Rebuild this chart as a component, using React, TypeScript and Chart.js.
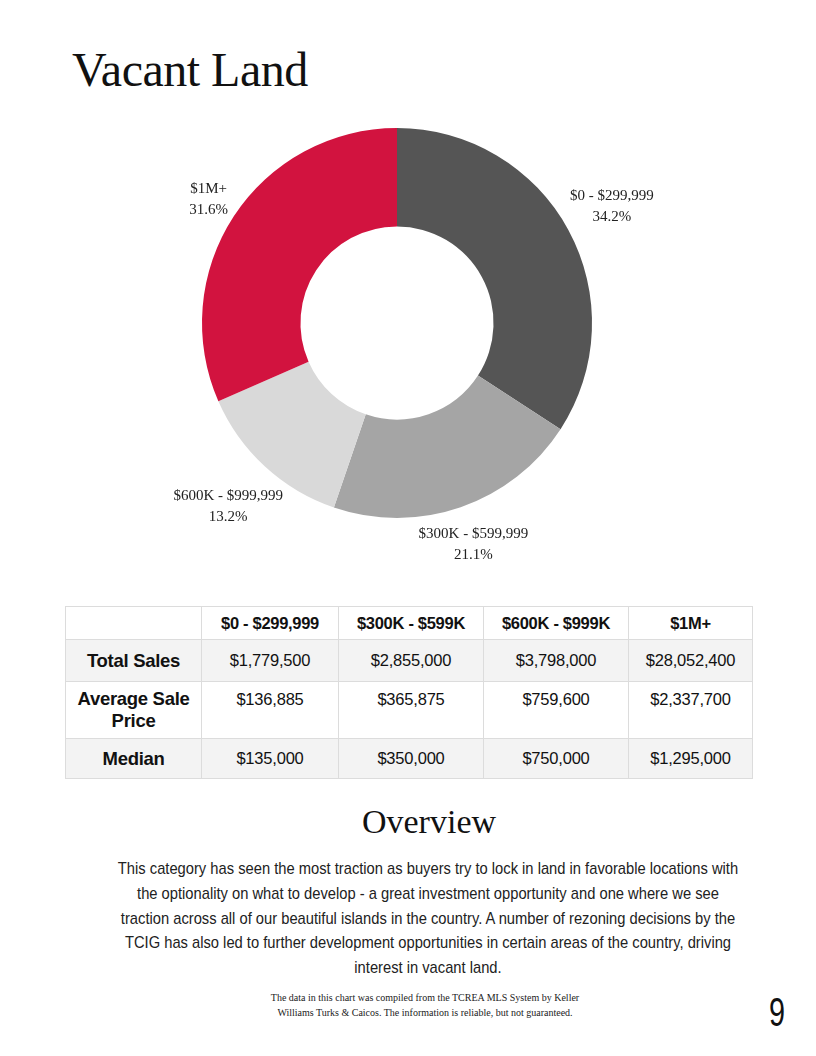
import React, { useEffect, useRef } from "react";
import { Chart, registerables } from "chart.js";

Chart.register(...registerables);

const sliceLabels = ["$0 - $299,999", "$300K - $599,999", "$600K - $999,999", "$1M+"];
const sliceValues = [34.2, 21.1, 13.2, 31.6];
const sliceColors = ["#555555", "#a5a5a5", "#d9d9d9", "#d2133f"];

const tableHeaders = ["", "$0 - $299,999", "$300K - $599K", "$600K - $999K", "$1M+"];
const totalSales = ["$1,779,500", "$2,855,000", "$3,798,000", "$28,052,400"];
const averageSalePrice = ["$136,885", "$365,875", "$759,600", "$2,337,700"];
const medianPrice = ["$135,000", "$350,000", "$750,000", "$1,295,000"];

const overviewLines = [
  "This category has seen the most traction as buyers try to lock in land in favorable locations with",
  "the optionality on what to develop - a great investment opportunity and one where we see",
  "traction across all of our beautiful islands in the country. A number of rezoning decisions by the",
  "TCIG has also led to further development opportunities in certain areas of the country, driving",
  "interest in vacant land.",
];

const SERIF = '"Liberation Serif", "DejaVu Serif", serif';
const SANS = '"Liberation Sans", Arial, sans-serif';

const outsideLabels = {
  id: "outsideLabels",
  afterDatasetsDraw(chart: any) {
    const ctx = chart.ctx;
    const meta = chart.getDatasetMeta(0);
    const data = chart.data.datasets[0].data as number[];
    const total = data.reduce((a: number, b: number) => a + b, 0);
    ctx.save();
    ctx.font = `15px ${SERIF}`;
    ctx.fillStyle = "#222222";
    ctx.textAlign = "center";
    ctx.textBaseline = "middle";
    const lineH = 21;
    meta.data.forEach((arc: any, i: number) => {
      const p = arc.getProps(["x", "y", "startAngle", "endAngle", "outerRadius"], true);
      const mid = (p.startAngle + p.endAngle) / 2;
      const l1 = String(chart.data.labels[i]);
      const l2 = ((data[i] / total) * 100).toFixed(1) + "%";
      const w = Math.max(ctx.measureText(l1).width, ctx.measureText(l2).width);
      const h = lineH * 2 - 6;
      const c = Math.cos(mid);
      const s = Math.sin(mid);
      const r = p.outerRadius + 4 + Math.abs(c) * w / 2 + Math.abs(s) * h / 2;
      const cx = p.x + c * r;
      const cy = p.y + s * r;
      ctx.fillText(l1, cx, cy - lineH / 2);
      ctx.fillText(l2, cx, cy + lineH / 2);
    });
    ctx.restore();
  },
};

function DonutChart() {
  const ref = useRef<HTMLCanvasElement | null>(null);
  useEffect(() => {
    if (!ref.current) return;
    const chart = new Chart(ref.current, {
      type: "doughnut",
      data: {
        labels: sliceLabels,
        datasets: [
          {
            data: sliceValues,
            backgroundColor: sliceColors,
            borderWidth: 0,
          },
        ],
      },
      options: {
        animation: false,
        responsive: false,
        maintainAspectRatio: false,
        radius: 195,
        cutout: "49.5%",
        plugins: {
          legend: { display: false },
          tooltip: { enabled: false },
        },
      } as any,
      plugins: [outsideLabels],
    });
    return () => chart.destroy();
  }, []);
  return (
    <canvas
      ref={ref}
      width={640}
      height={500}
      style={{ position: "absolute", left: 77, top: 73, width: 640, height: 500 }}
    />
  );
}

const cellBorder = "1px solid #dcdcdc";

function DataTable() {
  const colW = [136, 137, 145, 145, 124];
  const rows: { label: React.ReactNode; values: string[]; h: number; bg: string; valign: "middle" | "top" }[] = [
    { label: "Total Sales", values: totalSales, h: 42, bg: "#f3f3f3", valign: "middle" },
    { label: <>Average Sale<br />Price</>, values: averageSalePrice, h: 57, bg: "#ffffff", valign: "top" },
    { label: "Median", values: medianPrice, h: 40, bg: "#f3f3f3", valign: "middle" },
  ];
  return (
    <table
      style={{
        position: "absolute",
        left: 65,
        top: 606,
        borderCollapse: "collapse",
        tableLayout: "fixed",
        width: 687,
        fontFamily: SANS,
        color: "#111111",
      }}
    >
      <colgroup>
        {colW.map((w, i) => (
          <col key={i} style={{ width: w }} />
        ))}
      </colgroup>
      <tbody>
        <tr style={{ height: 33 }}>
          {tableHeaders.map((h, i) => (
            <td
              key={i}
              style={{
                border: cellBorder,
                textAlign: "center",
                fontWeight: "bold",
                fontSize: 16.5,
                letterSpacing: -0.3,
                padding: 0,
                background: "#ffffff",
              }}
            >
              {h}
            </td>
          ))}
        </tr>
        {rows.map((r, ri) => (
          <tr key={ri} style={{ height: r.h, background: r.bg }}>
            <td
              style={{
                border: cellBorder,
                textAlign: "center",
                fontWeight: "bold",
                fontSize: 18.5,
                letterSpacing: -0.3,
                lineHeight: "22px",
                padding: 0,
                verticalAlign: "middle",
              }}
            >
              {r.label}
            </td>
            {r.values.map((v, vi) => (
              <td
                key={vi}
                style={{
                  border: cellBorder,
                  textAlign: "center",
                  fontSize: 16.5,
                  letterSpacing: -0.2,
                  padding: r.valign === "top" ? "8px 0 0 0" : 0,
                  verticalAlign: r.valign,
                }}
              >
                {v}
              </td>
            ))}
          </tr>
        ))}
      </tbody>
    </table>
  );
}

export default function App() {
  const paraScale = 0.866;
  const paraW = 1000;
  return (
    <div
      style={{
        position: "absolute",
        left: 0,
        top: 0,
        width: 816,
        height: 1056,
        background: "#ffffff",
        overflow: "hidden",
      }}
    >
      <div
        style={{
          position: "absolute",
          left: 72,
          top: 40,
          fontFamily: SERIF,
          fontSize: 48,
          lineHeight: "60px",
          color: "#111111",
          letterSpacing: -0.5,
          whiteSpace: "nowrap",
        }}
      >
        Vacant Land
      </div>

      <DonutChart />
      <DataTable />

      <div
        style={{
          position: "absolute",
          left: 229,
          width: 400,
          top: 800,
          textAlign: "center",
          fontFamily: SERIF,
          fontSize: 34,
          lineHeight: "44px",
          color: "#111111",
        }}
      >
        Overview
      </div>

      <div
        style={{
          position: "absolute",
          left: 428 - (paraW * paraScale) / 2,
          width: paraW,
          top: 857,
          textAlign: "center",
          fontFamily: SANS,
          fontSize: 17,
          lineHeight: "24.8px",
          color: "#222222",
          transform: `scaleX(${paraScale})`,
          transformOrigin: "0 0",
          whiteSpace: "nowrap",
        }}
      >
        {overviewLines.map((l, i) => (
          <div key={i}>{l}</div>
        ))}
      </div>

      <div
        style={{
          position: "absolute",
          left: 175,
          width: 500,
          top: 990,
          textAlign: "center",
          fontFamily: SERIF,
          fontSize: 10,
          lineHeight: "15px",
          color: "#222222",
          whiteSpace: "nowrap",
        }}
      >
        The data in this chart was compiled from the TCREA MLS System by Keller
        <br />
        Williams Turks &amp; Caicos. The information is reliable, but not guaranteed.
      </div>

      <div
        style={{
          position: "absolute",
          left: 769,
          top: 989,
          fontFamily: SANS,
          fontSize: 40,
          lineHeight: "46px",
          color: "#111111",
          transform: "scaleX(0.72)",
          transformOrigin: "0 0",
        }}
      >
        9
      </div>
    </div>
  );
}
